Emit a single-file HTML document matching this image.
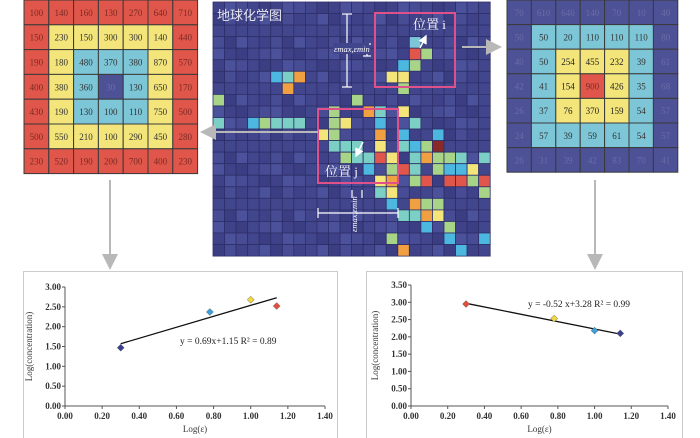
<!DOCTYPE html>
<html><head><meta charset="utf-8"><style>
body{margin:0;width:700px;height:438px;background:#fff;overflow:hidden;font-family:"Liberation Serif","Noto Serif CJK SC",serif}
svg{position:absolute;left:0;top:0}
</style></head><body>
<svg id="s" width="700" height="438">
<defs><marker id="ag" markerWidth="8" markerHeight="8" refX="7" refY="4" orient="auto"><path d="M0,0L8,4L0,8z" fill="#b8b8b8"/></marker>
<marker id="aw" markerWidth="6" markerHeight="6" refX="5" refY="3" orient="auto"><path d="M0,0L6,3L0,6z" fill="#fff"/></marker></defs>
<g id="map"></g>
<g id="gl"></g>
<g id="gr"></g>
<g stroke="#b8b8b8" stroke-width="2" fill="none">
<line x1="318" y1="132" x2="202" y2="132" marker-end="url(#ag)"/>
<line x1="462" y1="47" x2="500" y2="47" marker-end="url(#ag)"/>
<line x1="110" y1="180" x2="110" y2="268" marker-end="url(#ag)"/>
<line x1="595" y1="180" x2="595" y2="268" marker-end="url(#ag)"/>
</g>
<rect x="23.5" y="271.5" width="314" height="170" fill="none" stroke="#ccc"/>
<rect x="366.5" y="271.5" width="316" height="170" fill="none" stroke="#ccc"/>
<g id="c1"></g>
<g id="c2"></g>
</svg>
<script>
const NS="http://www.w3.org/2000/svg";
function el(p,t,a,txt){const e=document.createElementNS(NS,t);for(const k in a)e.setAttribute(k,a[k]);if(txt!==undefined)e.textContent=txt;p.appendChild(e);return e;}
const C={r:"#e0564a",y:"#f3e57a",c:"#7cc6d8",n:"#4d5196",o:"#f0a040",g:"#a8d488",t:"#7ccfc4",b:"#4cb8e0",d:"#8a2a28"};
const leftVals=[[100,140,160,130,270,640,710],[150,230,150,300,300,140,440],[190,180,480,370,380,870,570],[400,380,360,30,130,650,170],[430,190,130,100,110,750,500],[500,550,210,100,290,450,280],[230,520,190,200,700,400,230]];
const rightVals=[[70,610,640,140,70,10,40],[50,50,20,110,110,110,80],[40,50,254,455,232,39,61],[42,41,154,900,426,35,68],[26,37,76,370,159,54,57],[24,57,39,59,61,54,57],[26,31,39,42,83,70,41]];
function ring(i,j){return Math.max(Math.abs(i-3),Math.abs(j-3));}
function grid(g,vals,x0,y0,cw,ch,cols,tcols){
 vals.forEach((row,i)=>row.forEach((v,j)=>{const r=ring(i,j);
  const cell=el(g,"rect",{x:x0+j*cw,y:y0+i*ch,width:cw,height:ch,fill:cols[r],stroke:"#3a3a3a","stroke-width":1});
  
  
  const t=el(g,"text",{x:x0+j*cw+cw/2,y:y0+i*ch+ch/2+3.5,"text-anchor":"middle","font-size":9,fill:tcols[r]},v);
  
  
 }));}
grid(document.getElementById("gl"),leftVals,24,0,24.8,24.8,[C.n,C.c,C.y,C.r],["#6a6ea8","#333","#333","#7a2a24"]);
grid(document.getElementById("gr"),rightVals,507,0,24.4,24.6,[C.r,C.y,C.c,C.n],["#7a2a24","#222","#333","#6a6ea8"]);
const m=document.getElementById("map");
const mx=213,my=2,cs=11.55,NC=24,NR=22;
el(m,"rect",{x:mx,y:my,width:NC*cs,height:NR*cs,fill:"#3e3f86"});
const hot=[[3,17,"c"],[4,17,"r"],[4,18,"g"],[5,17,"g"],[5,16,"b"],[6,15,"y"],[6,16,"y"],[7,16,"g"],[6,5,"b"],[6,6,"t"],[6,7,"o"],[7,6,"o"],[8,0,"g"],[8,12,"g"],[9,10,"g"],[9,13,"o"],[9,14,"t"],[9,16,"y"],[10,0,"t"],[10,3,"b"],[10,4,"g"],[10,5,"t"],[10,6,"t"],[10,7,"t"],[10,10,"g"],[10,11,"y"],[10,14,"b"],[10,17,"t"],[11,9,"y"],[11,10,"g"],[11,14,"o"],[11,16,"b"],[11,19,"b"],[12,10,"t"],[12,11,"t"],[12,12,"t"],[12,14,"y"],[12,16,"t"],[12,17,"b"],[12,18,"g"],[12,19,"d"],[13,11,"g"],[13,12,"t"],[13,13,"t"],[13,14,"r"],[13,15,"y"],[13,17,"t"],[13,18,"o"],[13,19,"g"],[13,20,"g"],[13,21,"t"],[13,23,"t"],[14,13,"b"],[14,15,"g"],[14,16,"r"],[14,17,"t"],[14,19,"g"],[14,20,"b"],[14,21,"b"],[14,22,"y"],[15,14,"y"],[15,15,"o"],[15,17,"g"],[15,18,"r"],[15,20,"r"],[15,21,"r"],[15,22,"g"],[15,23,"r"],[16,14,"t"],[16,15,"y"],[16,23,"g"],[17,15,"b"],[17,17,"o"],[17,18,"g"],[17,19,"g"],[18,16,"t"],[18,17,"t"],[18,18,"o"],[18,19,"y"],[19,18,"b"],[19,20,"g"],[20,15,"g"],[20,20,"b"],[20,23,"b"],[21,16,"o"],[21,21,"b"]];
const hm={};hot.forEach(h=>hm[h[0]+","+h[1]]=h[2]);
const shades=["#3f4289","#474c94","#3b3e82","#4b519a","#42468c"];
for(let i=0;i<NR;i++)for(let j=0;j<NC;j++){const k=hm[i+","+j];
 const f=k?C[k]:shades[(i*7+j*13+i*j)%5];
 const r=el(m,"rect",{x:mx+j*cs,y:my+i*cs,width:cs,height:cs,fill:f,stroke:"#2e2f6a","stroke-width":0.8});
 
 }
el(m,"text",{x:217,y:20,fill:"#e8e8f0","font-size":13,"font-family":"Noto Sans CJK SC,sans-serif"},"地球化学图");
el(m,"rect",{x:375,y:13,width:80,height:74,fill:"none",stroke:"#e0508a","stroke-width":2});
el(m,"rect",{x:318,y:109,width:80,height:74,fill:"none",stroke:"#e0508a","stroke-width":2});
el(m,"text",{x:413,y:29,fill:"#fff","font-size":13},"位置 i");
el(m,"text",{x:325,y:176,fill:"#fff","font-size":13},"位置 j");
el(m,"line",{x1:420,y1:48,x2:426,y2:36,stroke:"#fff","stroke-width":1.5,"marker-end":"url(#aw)"});
el(m,"line",{x1:363,y1:142,x2:356,y2:156,stroke:"#fff","stroke-width":1.5,"marker-end":"url(#aw)"});
el(m,"g",{stroke:"#fff","stroke-width":1.2}).innerHTML='<line x1="347" y1="14" x2="347" y2="87"/><line x1="342" y1="14" x2="352" y2="14"/><line x1="342" y1="87" x2="352" y2="87"/><line x1="367" y1="44" x2="367" y2="56"/><line x1="363" y1="44" x2="371" y2="44"/><line x1="363" y1="56" x2="371" y2="56"/><line x1="318" y1="213" x2="398" y2="213"/><line x1="318" y1="208" x2="318" y2="218"/><line x1="398" y1="208" x2="398" y2="218"/><line x1="352" y1="190" x2="352" y2="198"/><line x1="362" y1="190" x2="362" y2="198"/>';
el(m,"rect",{x:333,y:43,width:36,height:11,fill:"#41458b"});
el(m,"text",{x:334,y:52,fill:"#fff","font-size":8.5,"font-style":"italic"},"εmax,εmin");
el(m,"text",{x:0,y:0,fill:"#fff","font-size":8.5,"font-style":"italic",transform:"translate(357,232) rotate(-90)"},"εmax,εmin");
const xTicks=[0,0.2,0.4,0.6,0.8,1.0,1.2,1.4];
const lx=[0.30,0.78,1.00,1.14], ly=[1.47,2.37,2.68,2.52], lcol=["#3a3f8f","#3ba0dc","#f0d840","#e0503a"];
const lYTicks=[0,0.5,1.0,1.5,2.0,2.5,3.0];
const rx=[0.30,0.78,1.00,1.14], ry=[2.95,2.53,2.18,2.10], rcol=["#e0503a","#f0d840","#3ba0dc","#3a3f8f"];
const rYTicks=[0,0.5,1.0,1.5,2.0,2.5,3.0,3.5];
const lLineX=[0.30,1.14], lLineY=[1.57,2.73];
const rLineX=[0.30,1.14], rLineY=[2.97,2.08];
function chart(g,X0,X1,Y0,Y1,ymax,yt,xs,ys,cols,LX,LY,eq,ex,ey){
 const sx=v=>X0+(v/1.4)*(X1-X0), sy=v=>Y0-(v/ymax)*(Y0-Y1);
 el(g,"line",{x1:X0,y1:Y0,x2:X1,y2:Y0,stroke:"#555"});el(g,"line",{x1:X0,y1:Y0,x2:X0,y2:Y1,stroke:"#555"});
 xTicks.forEach(t=>{el(g,"line",{x1:sx(t),y1:Y0,x2:sx(t),y2:Y0+3,stroke:"#555"});el(g,"text",{x:sx(t),y:Y0+13,"text-anchor":"middle","font-size":9,"font-weight":"bold",fill:"#333"},t.toFixed(2));});
 yt.forEach(t=>{el(g,"line",{x1:X0-3,y1:sy(t),x2:X0,y2:sy(t),stroke:"#555"});el(g,"text",{x:X0-4,y:sy(t)+3,"text-anchor":"end","font-size":9,"font-weight":"bold",fill:"#333"},t.toFixed(2));});
 el(g,"line",{x1:sx(LX[0]),y1:sy(LY[0]),x2:sx(LX[1]),y2:sy(LY[1]),stroke:"#111","stroke-width":1.3});
 xs.forEach((v,i)=>{const px=sx(v),py=sy(ys[i]);const p=el(g,"path",{d:`M${px},${py-3.5}L${px+3.5},${py}L${px},${py+3.5}L${px-3.5},${py}z`,fill:cols[i],stroke:"#666","stroke-width":0.5});
  
  });
 el(g,"text",{x:ex,y:ey,"font-size":9.5,fill:"#222"},eq);
 el(g,"text",{x:(X0+X1)/2,y:Y0+26,"text-anchor":"middle","font-size":9,fill:"#333"},"Log(ε)");
 el(g,"text",{x:0,y:0,"text-anchor":"middle","font-size":9,fill:"#333",transform:`translate(${X0-33},${(Y0+Y1)/2}) rotate(-90)`},"Log(concentration)");
}
chart(document.getElementById("c1"),65,325,406,287,3,lYTicks,lx,ly,lcol,lLineX,lLineY,"y = 0.69x+1.15     R² = 0.89",180,344);
chart(document.getElementById("c2"),411,668,406,285,3.5,rYTicks,rx,ry,rcol,rLineX,rLineY,"y = -0.52 x+3.28     R² = 0.99",528,307);
</script>
</body></html>
